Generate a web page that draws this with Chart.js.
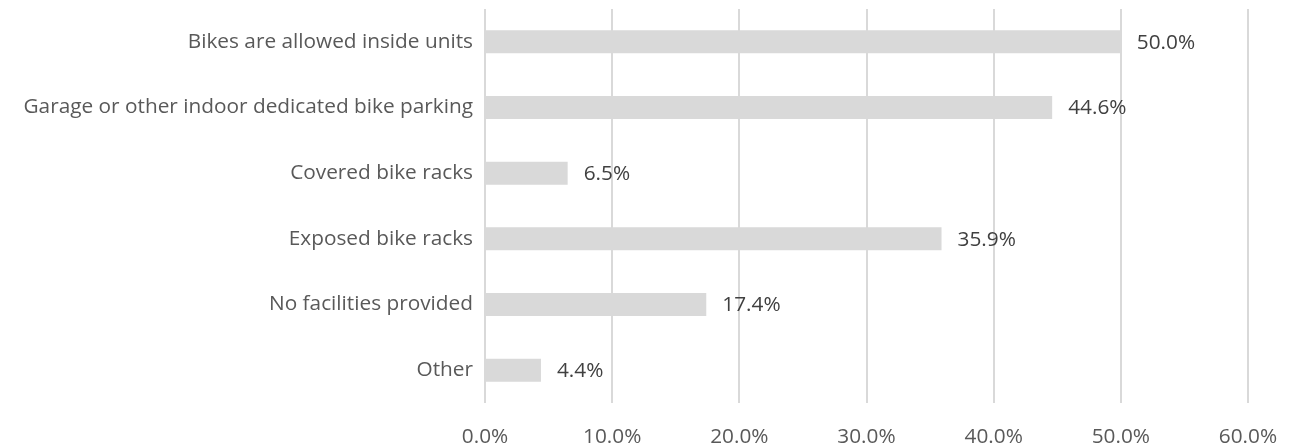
<!DOCTYPE html>
<html>
<head>
<meta charset="utf-8">
<script src="https://cdn.jsdelivr.net/npm/chart.js@4/dist/chart.umd.min.js"></script>
<style>
  html, body { margin: 0; padding: 0; background: #fff; }
  #wrap { width: 1291px; height: 448px; }
</style>
</head>
<body>
<div id="wrap"><canvas id="chart"></canvas></div>
<script>
const categories = [
  'Bikes are allowed inside units',
  'Garage or other indoor dedicated bike parking',
  'Covered bike racks',
  'Exposed bike racks',
  'No facilities provided',
  'Other'
];
const shares = [50.0, 44.6, 6.5, 35.9, 17.4, 4.4];
const xTicks = [0, 10, 20, 30, 40, 50, 60];

const FONT = '"Open Sans", sans-serif';
const SIZE = 20.8;

// writes the percentage just right of each bar end
const valueLabels = {
  id: 'valueLabels',
  afterDatasetsDraw(chart) {
    const ctx = chart.ctx;
    const meta = chart.getDatasetMeta(0);
    ctx.save();
    ctx.font = SIZE + 'px ' + FONT;
    ctx.fillStyle = '#404040';
    ctx.textAlign = 'left';
    ctx.textBaseline = 'middle';
    meta.data.forEach((bar, i) => {
      ctx.fillText(shares[i].toFixed(1) + '%', bar.x + 16, bar.y + 1);
    });
    ctx.restore();
  }
};

new Chart(document.getElementById('chart'), {
  type: 'bar',
  data: {
    labels: categories,
    datasets: [{
      data: shares,
      backgroundColor: '#d9d9d9',
      categoryPercentage: 1,
      barPercentage: 0.35
    }]
  },
  options: {
    indexAxis: 'y',
    responsive: true,
    maintainAspectRatio: false,
    animation: false,
    layout: { padding: { top: 9, right: 43, bottom: 0, left: 0 } },
    plugins: { legend: { display: false }, tooltip: { enabled: false } },
    scales: {
      x: {
        min: 0,
        max: 60,
        afterBuildTicks: (axis) => { axis.ticks = xTicks.map(v => ({ value: v })); },
        afterFit: (axis) => {
          axis.height = 45;
          axis.paddingLeft = 0;
          axis.paddingRight = 0;
        },
        grid: { color: '#d9d9d9', lineWidth: 2, drawTicks: false },
        border: { display: false },
        ticks: {
          padding: 22,
          maxRotation: 0,
          color: '#595959',
          font: { family: FONT, size: SIZE },
          callback: (v) => v.toFixed(1) + '%'
        }
      },
      y: {
        afterFit: (axis) => {
          axis.width = 485;
          axis.paddingTop = 0;
          axis.paddingBottom = 0;
        },
        grid: { display: false, drawTicks: false },
        border: { display: false },
        ticks: {
          padding: 12,
          color: '#595959',
          font: { family: FONT, size: SIZE }
        }
      }
    }
  },
  plugins: [valueLabels]
});
</script>
</body>
</html>
